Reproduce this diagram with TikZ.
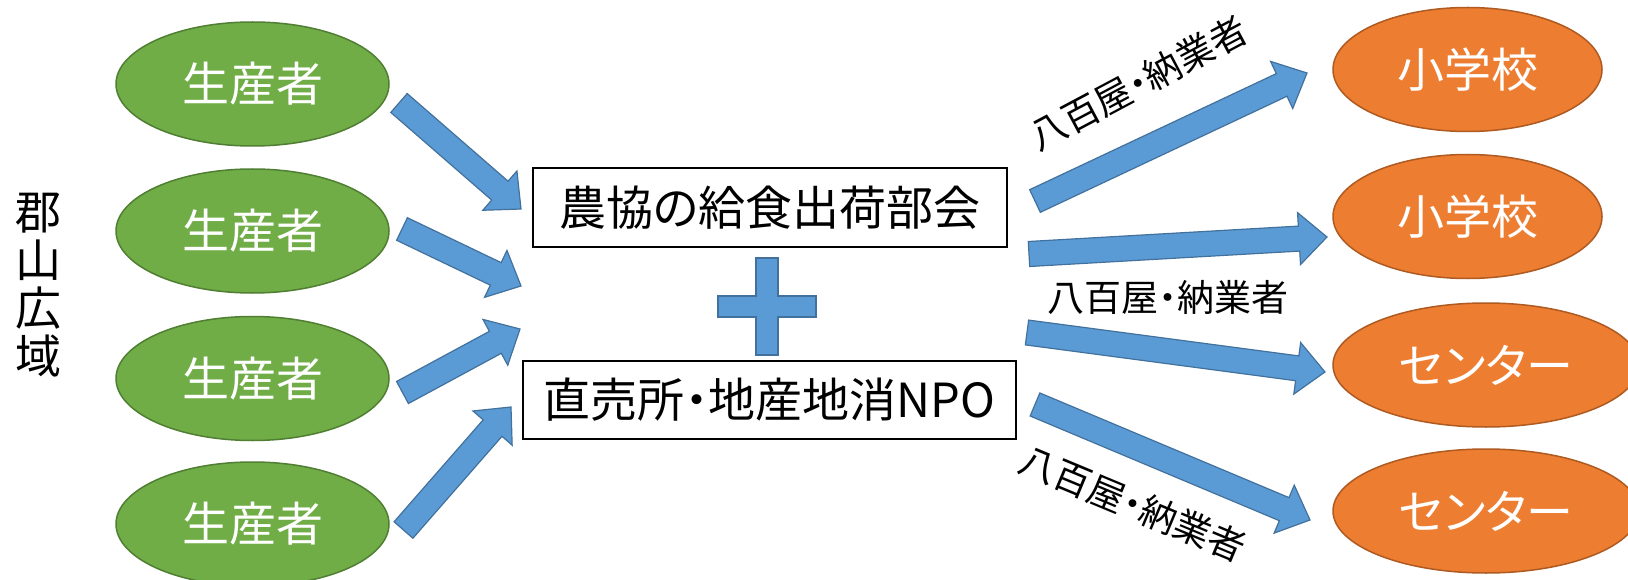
\documentclass[tikz,border=0pt]{standalone}
\usepackage{fontspec}
\newfontfamily\jp[RawFeature=+palt]{Noto Sans CJK JP}
\usetikzlibrary{shapes.geometric,calc}
\definecolor{gfill}{HTML}{70AD47}
\definecolor{gline}{HTML}{507E32}
\definecolor{ofill}{HTML}{ED7D31}
\definecolor{oline}{HTML}{AE5A21}
\definecolor{bfill}{HTML}{5B9BD5}
\definecolor{bline}{HTML}{41719C}
\newcommand{\blockarrow}[2]{%
  \path let \p1=($(#2)-(#1)$) in \pgfextra{%
    \pgfmathsetmacro{\baAngTmp}{atan2(\y1,\x1)}%
    \pgfmathsetmacro{\baLenTmp}{veclen(\x1,\y1)}%
    \xdef\baAng{\baAngTmp}\xdef\baLen{\baLenTmp}};
  \path[bluearrow, shift={(#1)}, rotate=\baAng]
    (0,12.5) -- ({\baLen-28},12.5) -- ({\baLen-28},26) -- (\baLen,0)
    -- ({\baLen-28},-26) -- ({\baLen-28},-12.5) -- (0,-12.5) -- cycle;
}
\tikzset{
  greenell/.style={ellipse, fill=gfill, draw=gline, line width=1.5pt,
    minimum width=273pt, minimum height=124pt, inner sep=0pt,
    text=white, font=\jp\fontsize{47}{50}\selectfont},
  orangeell/.style={ellipse, fill=ofill, draw=oline, line width=1.5pt,
    minimum width=269pt, minimum height=124pt, inner sep=0pt,
    text=white, font=\jp\fontsize{47}{50}\selectfont},
  boxnode/.style={rectangle, draw=black, fill=white, line width=1.5pt,
    inner sep=0pt, font=\jp\fontsize{47}{50}\selectfont},
  lbl/.style={inner sep=0pt, font=\jp\fontsize{37}{40}\selectfont},
  regionlbl/.style={inner sep=0pt, align=center, font=\jp\fontsize{46}{48}\selectfont},
  bluearrow/.style={fill=bfill, draw=bline, line width=1.2pt, line join=miter},
  plusshape/.style={fill=bfill, draw=bline, line width=1.2pt, line join=miter}
}
\begin{document}
\begin{tikzpicture}[x=1pt,y=-1pt]
\useasboundingbox[fill=white] (0,0) rectangle (1628,580);
% region label
\node[regionlbl] (reg) at (39,285) {郡\\山\\広\\域};
% producers
\node[greenell] (g1) at (252.5,84) {生産者};
\node[greenell] (g2) at (252.5,231) {生産者};
\node[greenell] (g3) at (252.5,378.5) {生産者};
\node[greenell] (g4) at (252.5,524) {生産者};
% central boxes
\node[boxnode, minimum width=474pt, minimum height=79pt] (b1) at (770,207.5) {農協の給食出荷部会};
\node[boxnode, minimum width=493pt, minimum height=78pt] (b2) at (769.5,400) {直売所・地産地消NPO};
% plus
\path[plusshape] (756,258) -- (778,258) -- (778,296) -- (816,296) -- (816,317)
  -- (778,317) -- (778,355) -- (756,355) -- (756,317) -- (718,317)
  -- (718,296) -- (756,296) -- cycle;
% destinations
\node[orangeell] (s1) at (1467.5,69.5) {小学校};
\node[orangeell] (s2) at (1467.5,216.5) {小学校};
\node[orangeell, minimum width=306pt] (c1) at (1486,365) {センター};
\node[orangeell, minimum width=306pt] (c2) at (1486,511) {センター};
% arrow ends
\coordinate (a1s) at (399,103);    \coordinate (a1e) at (521,209);
\coordinate (a2s) at (402,229);    \coordinate (a2e) at (521,286);
\coordinate (a3s) at (402.5,392.5);\coordinate (a3e) at (520,329);
\coordinate (a4s) at (403.5,530);  \coordinate (a4e) at (511,407);
\coordinate (a5s) at (1035,201);   \coordinate (a5e) at (1307,73);
\coordinate (a6s) at (1029,254);   \coordinate (a6e) at (1327,237);
\coordinate (a7s) at (1027,332.5); \coordinate (a7e) at (1325,372);
\coordinate (a8s) at (1035,404.5); \coordinate (a8e) at (1310,520);
\blockarrow{a1s}{a1e}
\blockarrow{a2s}{a2e}
\blockarrow{a3s}{a3e}
\blockarrow{a4s}{a4e}
\blockarrow{a5s}{a5e}
\blockarrow{a6s}{a6e}
\blockarrow{a7s}{a7e}
\blockarrow{a8s}{a8e}
% labels
\node[lbl, rotate=28] (l1) at (1138,83) {八百屋・納業者};
\node[lbl] (l2) at (1168,297) {八百屋・納業者};
\node[lbl, rotate=-22.6] (l3) at (1133,504) {八百屋・納業者};
\end{tikzpicture}
\end{document}
